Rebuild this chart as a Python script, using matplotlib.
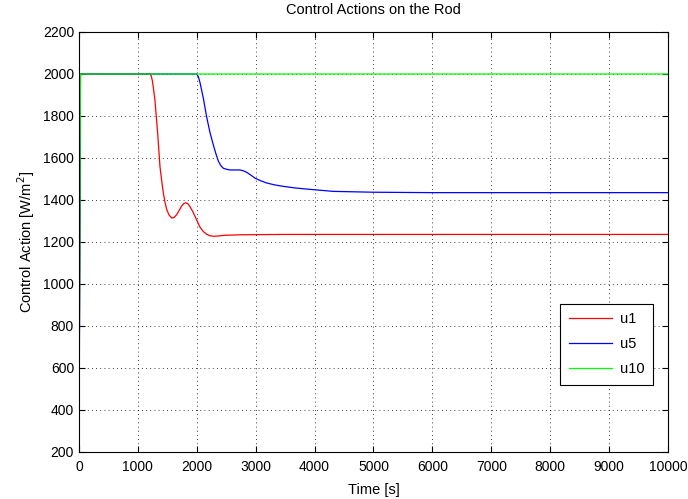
import numpy as np
import matplotlib
matplotlib.use("Agg")
import matplotlib.pyplot as plt

plt.rcParams["font.family"] = ["Liberation Sans", "DejaVu Sans"]

# u1 (red)
t_u1 = [0, 25, 1205, 1225, 1245, 1265, 1290, 1336, 1375, 1405, 1432, 1460,
        1489, 1530, 1574, 1615, 1659, 1700, 1744, 1780, 1811, 1850, 1885,
        1930, 1970, 2054, 2110, 2168, 2220, 2280, 2380, 2479, 2700, 3000,
        3500, 10000]
u1 = [290, 2000, 2000, 1992, 1969, 1930, 1875, 1717, 1559, 1490, 1434, 1390,
      1355, 1328, 1314, 1317, 1330, 1350, 1372, 1383, 1387, 1382, 1368,
      1346, 1322, 1271, 1250, 1237, 1230, 1227, 1229, 1232, 1234, 1235,
      1236, 1236]

# u5 (blue)
t_u5 = [0, 25, 1998, 2025, 2054, 2111, 2168, 2225, 2281, 2325, 2366, 2410,
        2451, 2510, 2564, 2650, 2733, 2790, 2847, 2920, 2988, 3090, 3187,
        3320, 3469, 3650, 3866, 4318, 5000, 6000, 10000]
u5 = [150, 2000, 2000, 1988, 1960, 1885, 1795, 1720, 1662, 1620, 1585, 1563,
      1551, 1546, 1543, 1543, 1543, 1539, 1532, 1518, 1504, 1491, 1481,
      1472, 1465, 1458, 1452, 1441, 1437, 1435, 1435]

# u10 (green)
t_u10 = [0, 25, 10000]
u10 = [290, 2000, 2000]

fig = plt.figure(figsize=(6.88, 4.99), dpi=100)
ax = fig.add_axes([0.1148, 0.0942, 0.8561, 0.8417])

ax.plot(t_u1, u1, color="#ff0000", lw=0.9, label="u1")
ax.plot(t_u5, u5, color="#0000ff", lw=0.9, label="u5")
ax.plot(t_u10, u10, color="#00ff00", lw=0.9, label="u10")

ax.set_xlim(0, 10000)
ax.set_ylim(200, 2200)
ax.set_xticks(np.arange(0, 10001, 1000))
ax.set_yticks(np.arange(200, 2201, 200))
ax.tick_params(direction="in", top=True, right=True, length=4, labelsize=10)
ax.tick_params(axis="x", pad=6)
ax.grid(True, color="k", linestyle=(0, (1, 4)), linewidth=0.6)
for s in ax.spines.values():
    s.set_linewidth(0.8)

ax.set_title("Control Actions on the Rod", fontsize=10.5, pad=13)
ax.set_xlabel("Time [s]", fontsize=10.5, labelpad=6)
ax.set_ylabel("Control Action [W/m$^2$]", fontsize=10.5)

leg = ax.legend(loc="lower right", bbox_to_anchor=(0.9745, 0.1595),
                borderaxespad=0, fontsize=10.5, fancybox=False, edgecolor="k",
                framealpha=1, handlelength=3.0, handletextpad=0.5,
                labelspacing=0.75, borderpad=0.6)
leg.get_frame().set_linewidth(0.8)

fig.savefig("out.png", dpi=100)
